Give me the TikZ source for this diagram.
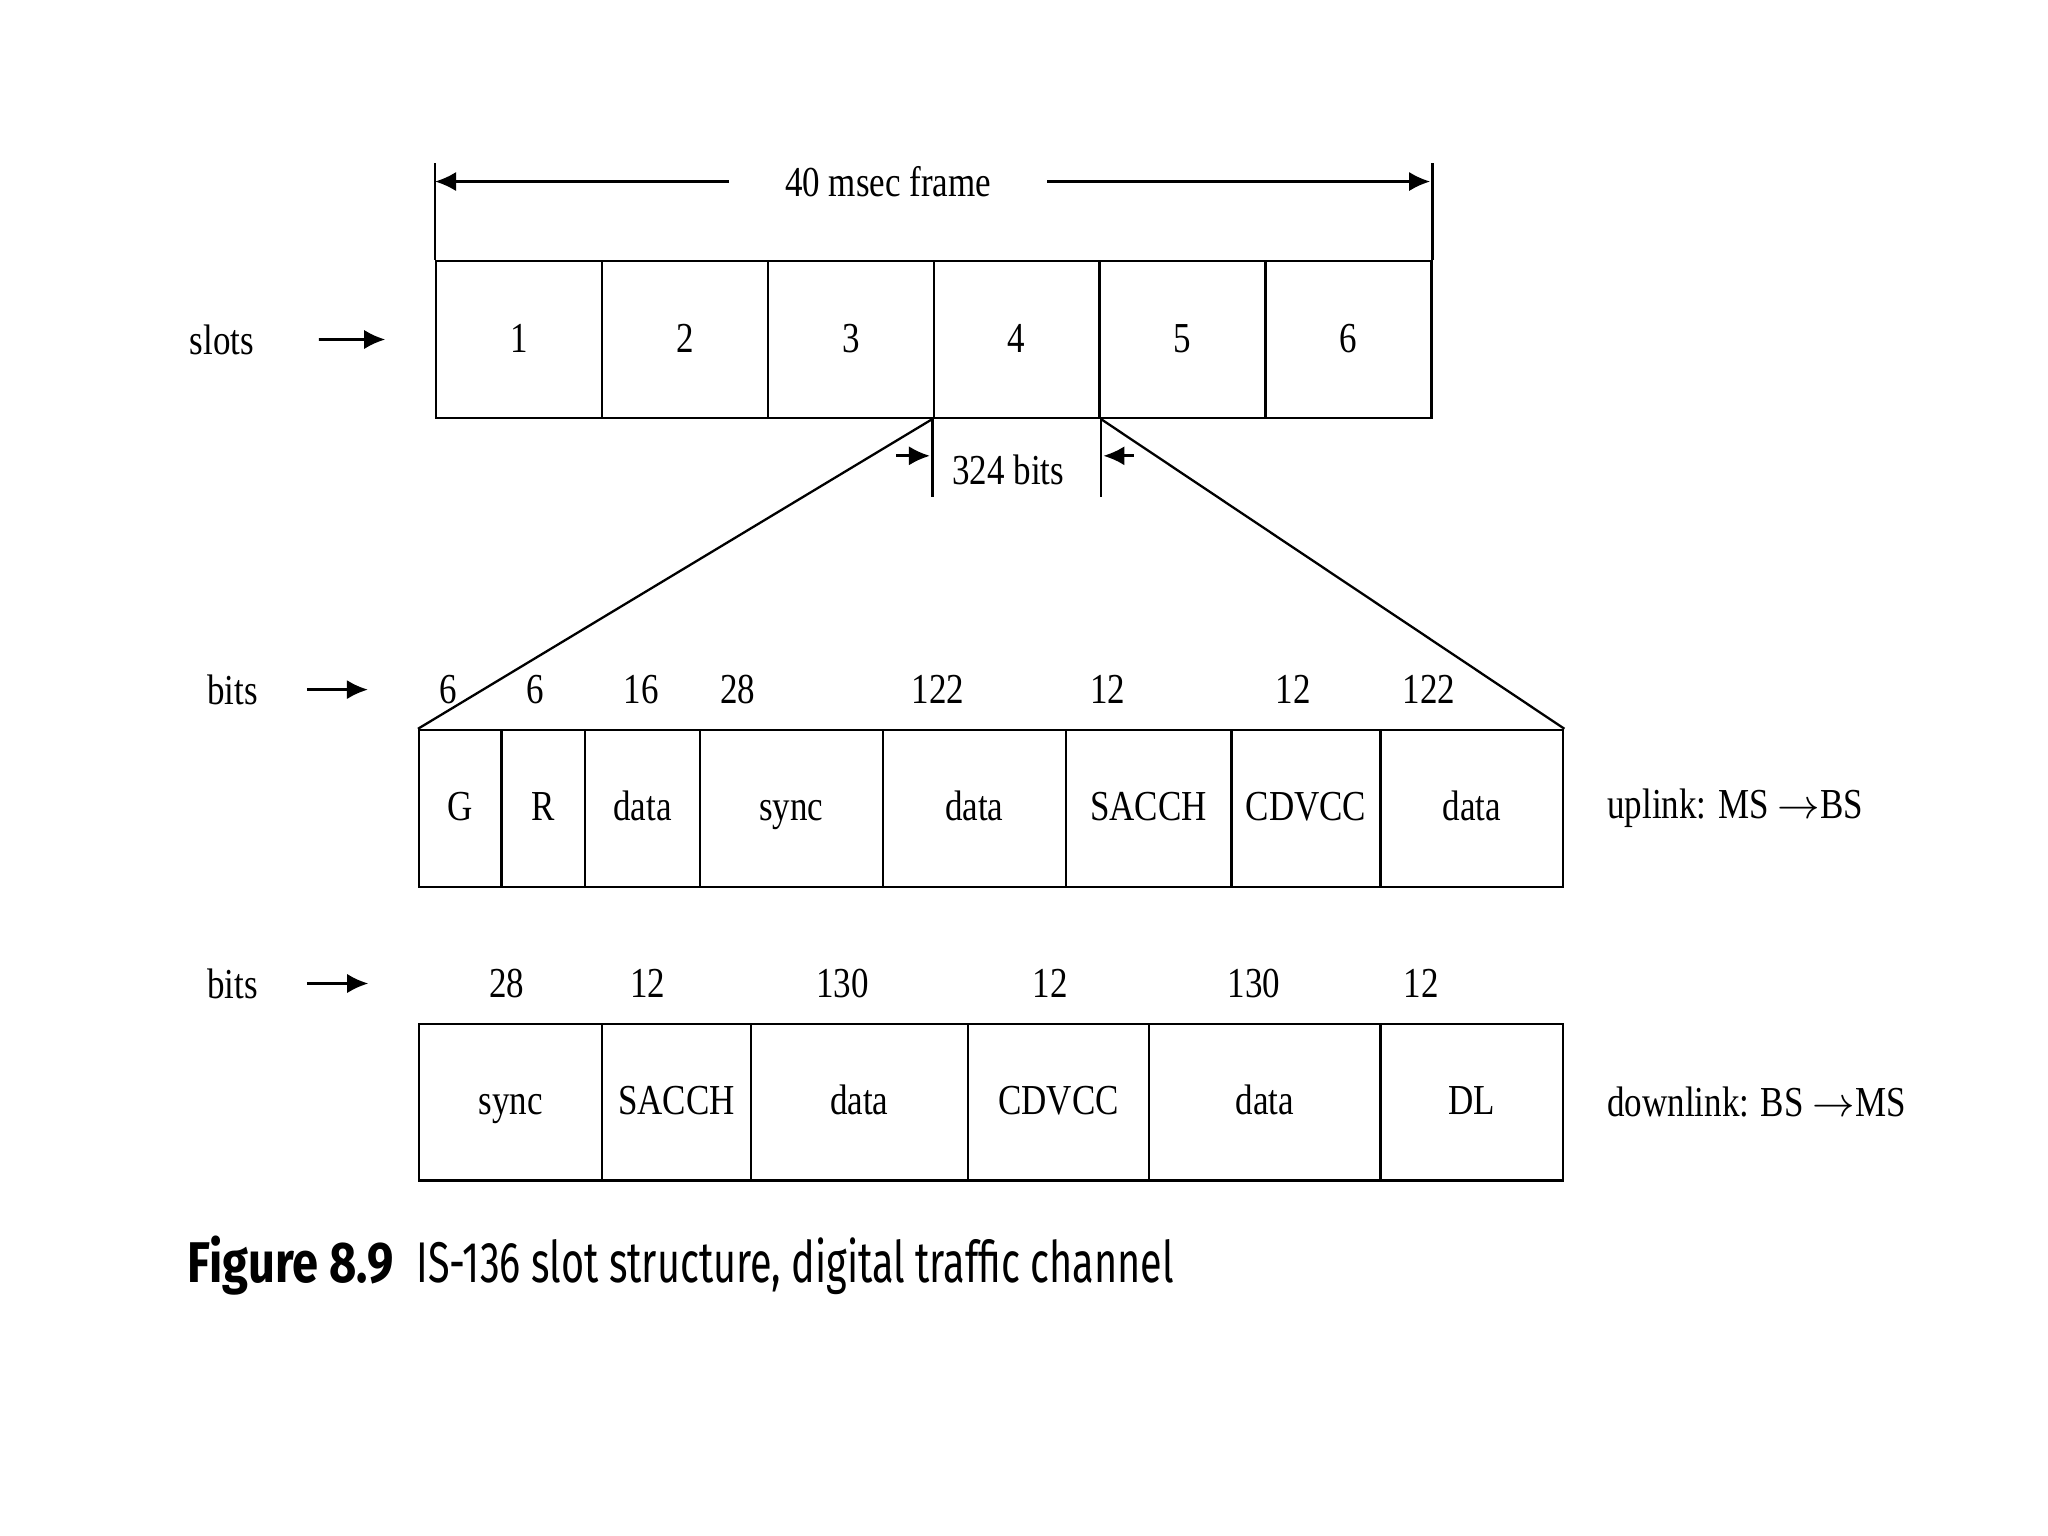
\documentclass[tikz,border=0pt]{standalone}
\usepackage{fontspec}
\setmainfont[FakeStretch=0.82]{Liberation Serif}
\newfontfamily\capfont[FakeStretch=0.69]{Fira Sans}
\newfontfamily\capbold[FakeStretch=0.82]{Fira Sans}
\usetikzlibrary{arrows.meta}

\begin{document}
\begin{tikzpicture}[
    line width=0.5pt,
    every node/.style={font=\fontsize{9.3}{11}\selectfont},
    cell/.style={draw, rectangle, inner sep=0pt, anchor=north west, minimum height=1.2cm,
        text height=1.5ex, text depth=0.3ex},
    arr/.style={-{Latex[length=4.6pt,width=4.2pt]}, line width=0.6pt}
  ]
    \useasboundingbox (0,0) rectangle (15.68,-11.76);

    % Frame of six slots
    \foreach \i in {1,...,6}
        \node[cell, minimum width=1.27cm] (s\i) at ({3.33+1.27*(\i-1)},-1.99) {\i};
    \node (slots) at (1.70,-2.60) {slots};
    \draw[arr, shorten <=0.37cm, shorten >=0.38cm] (slots) -- (s1);

    % 40 msec frame marker
    \draw (s1.north west) -- ++(0,0.74) coordinate (ftl);
    \draw (s6.north east) -- ++(0,0.74) coordinate (ftr);
    \node[inner xsep=0.42cm] (frame) at (6.80,-1.39) {40 msec frame};
    \coordinate (fal) at (3.33,-1.39);
    \coordinate (far) at (10.95,-1.39);
    \draw[arr] (frame.west) -- (fal);
    \draw[arr] (frame.east) -- (far);

    % 324 bits marker below slot 4
    \draw (s4.south west) -- ++(0,-0.60);
    \draw (s4.south east) -- ++(0,-0.60);
    \node (len) at (7.72,-3.60) {324 bits};
    \coordinate (la) at (6.86,-3.49);
    \coordinate (lb) at (8.68,-3.49);
    \draw[arr, shorten >=0.02cm] (la) -- (s4.south west |- la);
    \draw[arr, shorten >=0.02cm] (lb) -- (s4.south east |- lb);

    % Uplink slot
    \foreach \a/\w/\t [count=\k] in {3.20/0.63/G, 3.83/0.64/R, 4.47/0.88/data, 5.35/1.40/sync,
            6.75/1.40/data, 8.15/1.27/SACCH, 9.42/1.14/CDVCC, 10.56/1.40/data}
        \node[cell, minimum width=\w cm] (u\k) at (\a,-5.58) {\t};
    \foreach \x/\n [count=\k] in {3.43/6, 4.10/6, 4.91/16, 5.65/28, 7.18/122, 8.48/12, 9.90/12, 10.94/122}
        \node (nu\k) at (\x,-5.28) {\n};
    \node (bitsu) at (1.78,-5.28) {bits};
    \draw[arr, shorten <=0.25cm, shorten >=0.42cm] (bitsu) -- (nu1);
    \node[anchor=west] (up) at (12.18,-6.19) {uplink: MS $\rightarrow$BS};

    % Expansion of slot 4
    \draw (s4.south west) -- (u1.north west);
    \draw (s4.south east) -- (u8.north east);

    % Downlink slot
    \foreach \a/\w/\t [count=\k] in {3.20/1.40/sync, 4.60/1.14/SACCH, 5.74/1.66/data,
            7.40/1.39/CDVCC, 8.79/1.77/data, 10.56/1.40/DL}
        \node[cell, minimum width=\w cm] (d\k) at (\a,-7.83) {\t};
    \foreach \x/\n [count=\k] in {3.88/28, 4.96/12, 6.45/130, 8.04/12, 9.60/130, 10.88/12}
        \node (nd\k) at (\x,-7.53) {\n};
    \node (bitsd) at (1.78,-7.53) {bits};
    \draw[arr, shorten <=0.25cm, shorten >=0.80cm] (bitsd) -- (nd1);
    \node[anchor=west] (down) at (12.18,-8.44) {downlink: BS $\rightarrow$MS};

    % Caption
    \node[anchor=base west, inner sep=0pt, font=\capbold\fontsize{12.5}{14}\selectfont\bfseries]
        (capnum) at (1.43,-9.82) {Figure 8.9};
    \node[anchor=base west, inner sep=0pt, font=\capfont\fontsize{12.5}{14}\selectfont]
        (captext) at (3.18,-9.82) {IS-136 slot structure, digital traffic channel};
\end{tikzpicture}
\end{document}
